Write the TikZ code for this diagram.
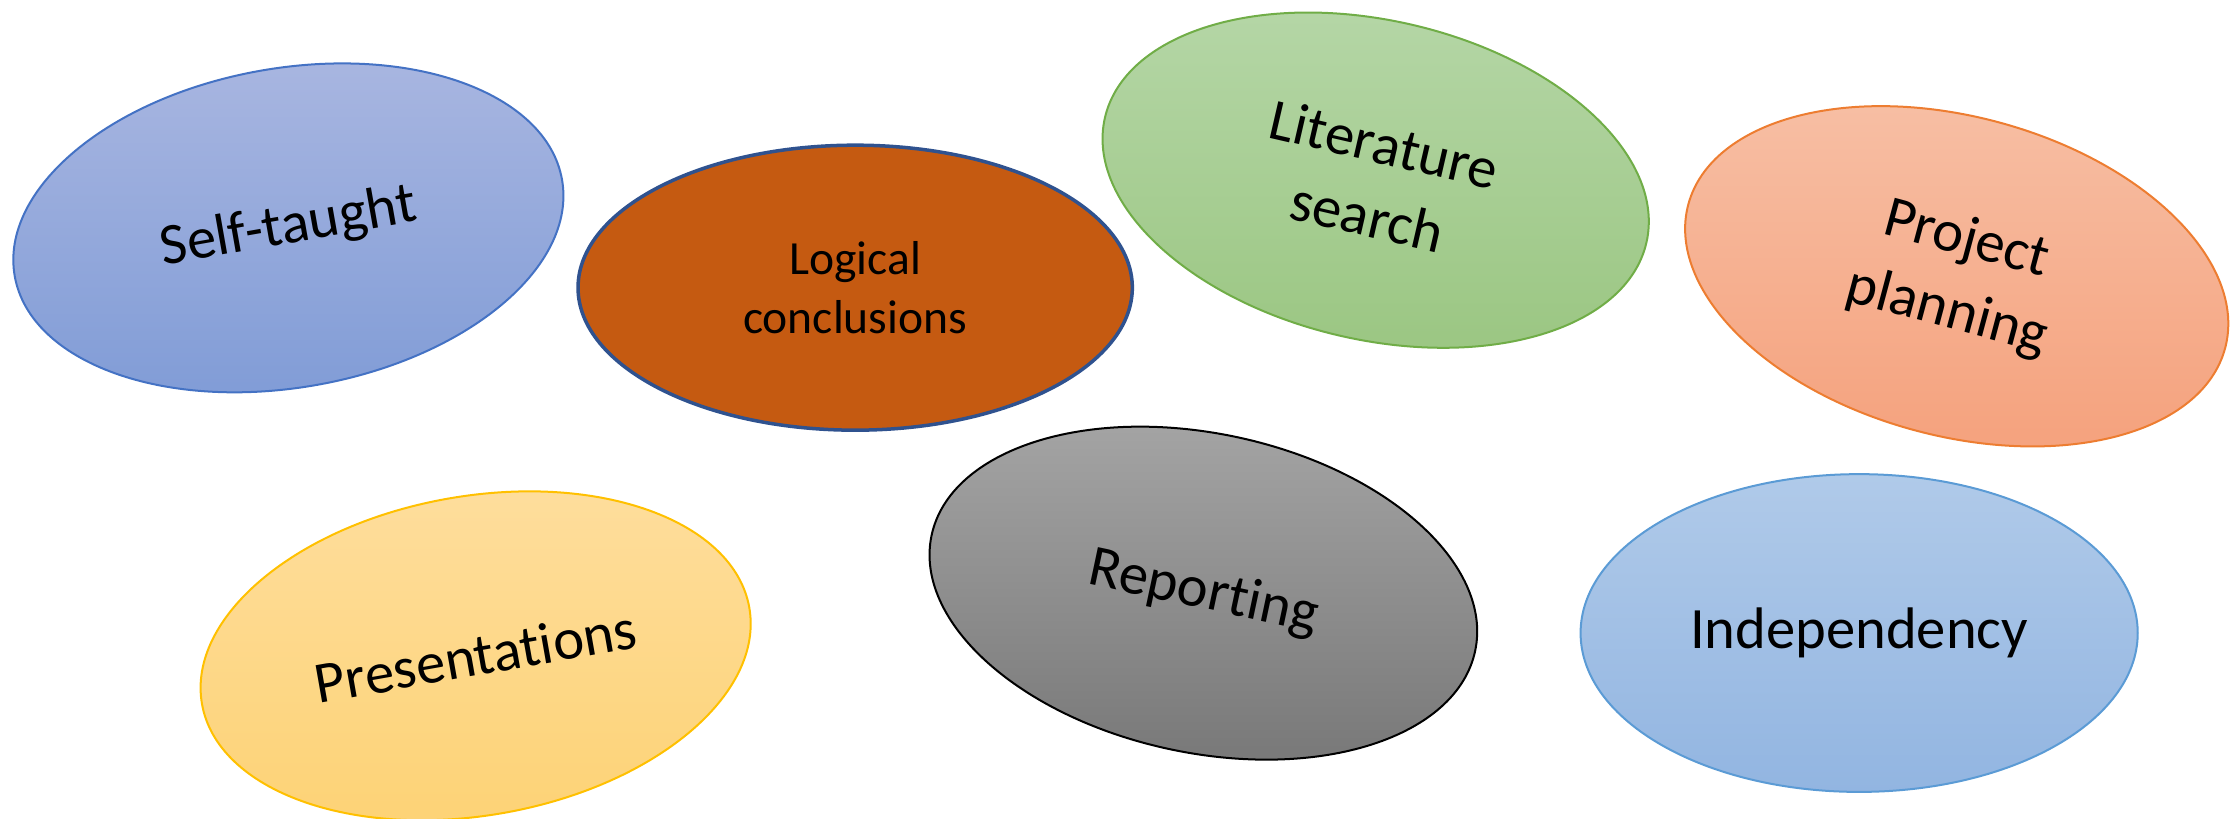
\documentclass[tikz,border=0pt]{standalone}
\usepackage{fontspec}
\setmainfont{Carlito}[Ligatures={NoCommon}]
\usetikzlibrary{shapes.geometric}
\definecolor{stTop}{HTML}{AAB7E1}\definecolor{stBot}{HTML}{7F9BD6}\definecolor{stLine}{HTML}{4472C4}
\definecolor{lcFill}{HTML}{C55A11}\definecolor{lcLine}{HTML}{2F528F}
\definecolor{lsTop}{HTML}{B6D7A8}\definecolor{lsBot}{HTML}{9CC784}\definecolor{lsLine}{HTML}{70AD47}
\definecolor{ppTop}{HTML}{F7C0A6}\definecolor{ppBot}{HTML}{F5A37F}\definecolor{ppLine}{HTML}{ED7D31}
\definecolor{prTop}{HTML}{FEDE9E}\definecolor{prBot}{HTML}{FDD274}\definecolor{prLine}{HTML}{FFC000}
\definecolor{rpTop}{HTML}{A6A6A6}\definecolor{rpBot}{HTML}{7A7A7A}
\definecolor{inTop}{HTML}{B0CAE9}\definecolor{inBot}{HTML}{92B5E1}\definecolor{inLine}{HTML}{5B9BD5}
\tikzset{
  blob/.style={ellipse, inner sep=0pt, minimum width=3.9cm, minimum height=2.24cm,
    line width=0.4pt, align=center, font=\fontsize{11.7pt}{14.8pt}\selectfont},
}
\begin{document}
\begin{tikzpicture}[x=0.01cm,y=-0.01cm]
\useasboundingbox (0,0) rectangle (1568,575);
\node[blob, draw=stLine, top color=stTop, bottom color=stBot, rotate=10] (self) at (202.5,160) {Self-taught};
\node[blob, draw=lcLine, fill=lcFill, line width=0.7pt, minimum width=3.89cm, minimum height=2.0cm,
  font=\fontsize{9.5pt}{11.9pt}\selectfont] (logic) at (600.5,202) {Logical\\conclusions};
\node[blob, draw=lsLine, top color=lsTop, bottom color=lsBot, rotate=-13] (lit) at (966,126.5) {Literature\\search};
\node[blob, draw=ppLine, top color=ppTop, bottom color=ppBot, rotate=-15] (proj) at (1374,194) {Project\\planning};
\node[blob, draw=prLine, top color=prTop, bottom color=prBot, rotate=10] (pres) at (334,460.5) {Presentations};
\node[blob, draw=black, top color=rpTop, bottom color=rpBot, rotate=-12] (rep) at (845,416.5) {Reporting};
\node[blob, draw=inLine, top color=inTop, bottom color=inBot, minimum width=3.91cm, minimum height=2.23cm] (ind) at (1305.5,444.5) {Independency};
\end{tikzpicture}
\end{document}
